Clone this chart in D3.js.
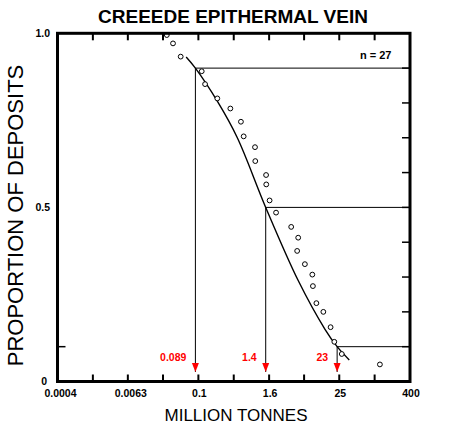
<!DOCTYPE html>
<html>
<head>
<meta charset="utf-8">
<script src="https://cdn.jsdelivr.net/npm/d3@7"></script>
<style>
  body { margin: 0; background: #fff; }
  svg { display: block; }
  text { font-family: "Liberation Sans", Arial, sans-serif; }
</style>
</head>
<body>
<div id="chart"></div>
<script>
// observed deposits (million tonnes, proportion of deposits)
const depositTonnage = [0.029, 0.037, 0.050, 0.114, 0.130, 0.21, 0.35, 0.53, 0.59,
  0.92, 0.93, 1.42, 1.43, 1.63, 2.1, 3.8, 5.0, 4.8, 6.5, 8.7, 8.9, 10.2, 13.4,
  17.8, 20.6, 27.6, 123];
const depositProportion = [0.995, 0.971, 0.933, 0.891, 0.854, 0.813, 0.784, 0.746,
  0.704, 0.673, 0.633, 0.593, 0.566, 0.52, 0.485, 0.444, 0.413, 0.375, 0.337,
  0.307, 0.274, 0.225, 0.2, 0.156, 0.114, 0.079, 0.049];

// fitted curve
const curveTonnage = [0.062, 0.089, 0.21, 0.46, 1.4, 5.0, 14.3, 23, 37];
const curveProportion = [0.932, 0.9, 0.805, 0.70, 0.5, 0.29, 0.15, 0.1, 0.062];

// 90th / 50th / 10th percentiles
const percentileProportion = [0.9, 0.5, 0.1];
const percentileTonnage = [0.089, 1.4, 23];
const percentileLabels = ["0.089", "1.4", "23"];

// axes
const xTickValues = [0.0004, 0.0016, 0.0063, 0.025, 0.1, 0.4, 1.6, 6.3, 25, 100, 400];
const xTickLabels = ["0.0004", "", "0.0063", "", "0.1", "", "1.6", "", "25", "", "400"];
const yTickValues = [0.1, 0.2, 0.3, 0.4, 0.5, 0.6, 0.7, 0.8, 0.9];
const yLabelValues = [0, 0.5, 1];
const yLabelTexts = ["0", "0.5", "1.0"];

const width = 450;
const height = 442;
const plot = { left: 57.5, right: 410, top: 33.3, bottom: 381.5 };

const svg = d3.select("#chart")
  .append("svg")
  .attr("width", width)
  .attr("height", height);

const x = d3.scaleLog()
  .domain([0.0004, 400])
  .range([plot.left, plot.right]);
const y = d3.scaleLinear()
  .domain([0, 1])
  .range([plot.bottom, plot.top]);

// title
svg.append("text")
  .attr("x", 233)
  .attr("y", 23)
  .attr("text-anchor", "middle")
  .attr("font-size", 19)
  .attr("font-weight", "bold")
  .text("CREEEDE EPITHERMAL VEIN");

// percentile guide lines
const arrowTip = 372;
percentileTonnage.forEach((t, i) => {
  const px = x(t);
  const py = y(percentileProportion[i]);
  svg.append("line")
    .attr("x1", px).attr("x2", plot.right)
    .attr("y1", py).attr("y2", py)
    .attr("stroke", "#000").attr("stroke-width", 1);
  svg.append("line")
    .attr("x1", px).attr("x2", px)
    .attr("y1", py).attr("y2", arrowTip)
    .attr("stroke", "#000").attr("stroke-width", 1);
  svg.append("path")
    .attr("d", `M${px - 3.5},${arrowTip - 9}L${px + 3.5},${arrowTip - 9}L${px},${arrowTip}Z`)
    .attr("fill", "#ff0000");
  svg.append("text")
    .attr("x", px - 9)
    .attr("y", 361)
    .attr("text-anchor", "end")
    .attr("font-size", 10.5)
    .attr("font-weight", "bold")
    .attr("fill", "#ff0000")
    .text(percentileLabels[i]);
});

// fitted curve
const curveData = curveTonnage.map((t, i) => [t, curveProportion[i]]);
svg.append("path")
  .datum(curveData)
  .attr("fill", "none")
  .attr("stroke", "#000")
  .attr("stroke-width", 1.4)
  .attr("d", d3.line()
    .x(d => x(d[0]))
    .y(d => y(d[1]))
    .curve(d3.curveCatmullRom));

// deposits
svg.append("g")
  .selectAll("circle")
  .data(depositTonnage.map((t, i) => [t, depositProportion[i]]))
  .join("circle")
  .attr("cx", d => x(d[0]))
  .attr("cy", d => y(d[1]))
  .attr("r", 2.4)
  .attr("fill", "#fff")
  .attr("stroke", "#000")
  .attr("stroke-width", 1);

// ticks
const ticks = svg.append("g").attr("stroke", "#000");
xTickValues.slice(1, -1).forEach(v => {
  ticks.append("line")
    .attr("x1", x(v)).attr("x2", x(v))
    .attr("y1", plot.top).attr("y2", plot.top + 7)
    .attr("stroke-width", 2);
  ticks.append("line")
    .attr("x1", x(v)).attr("x2", x(v))
    .attr("y1", plot.bottom).attr("y2", plot.bottom - 7)
    .attr("stroke-width", 2);
});
yTickValues.forEach(v => {
  ticks.append("line")
    .attr("x1", plot.right).attr("x2", plot.right - 8)
    .attr("y1", y(v)).attr("y2", y(v))
    .attr("stroke-width", 1.5);
});
ticks.append("line")
  .attr("x1", plot.left).attr("x2", plot.left + 8)
  .attr("y1", y(0.1)).attr("y2", y(0.1))
  .attr("stroke-width", 1.5);

// frame
svg.append("rect")
  .attr("x", plot.left)
  .attr("y", plot.top)
  .attr("width", plot.right - plot.left)
  .attr("height", plot.bottom - plot.top)
  .attr("fill", "none")
  .attr("stroke", "#000")
  .attr("stroke-width", 3);

// tick labels
svg.append("g")
  .selectAll("text")
  .data(xTickValues.map((v, i) => [v, xTickLabels[i]]).filter(d => d[1]))
  .join("text")
  .attr("x", d => x(d[0]) + (d[0] < 0.01 ? 3 : 1))
  .attr("y", 397)
  .attr("text-anchor", "middle")
  .attr("font-size", 10.5)
  .attr("font-weight", "bold")
  .text(d => d[1]);

svg.append("g")
  .selectAll("text")
  .data(yLabelValues.map((v, i) => [v, yLabelTexts[i]]))
  .join("text")
  .attr("x", d => (d[0] === 0 ? 47 : 50))
  .attr("y", d => y(d[0]))
  .attr("dy", "0.35em")
  .attr("text-anchor", "end")
  .attr("font-size", 10.5)
  .attr("font-weight", "bold")
  .text(d => d[1]);

svg.append("text")
  .attr("x", 360)
  .attr("y", 58.5)
  .attr("font-size", 11)
  .attr("font-weight", "bold")
  .text("n = 27");

// axis titles
svg.append("text")
  .attr("x", 236)
  .attr("y", 421)
  .attr("text-anchor", "middle")
  .attr("font-size", 17)
  .text("MILLION TONNES");

svg.append("text")
  .attr("transform", "translate(23,215.5) rotate(-90)")
  .attr("text-anchor", "middle")
  .attr("font-size", 22)
  .text("PROPORTION OF DEPOSITS");
</script>
</body>
</html>
